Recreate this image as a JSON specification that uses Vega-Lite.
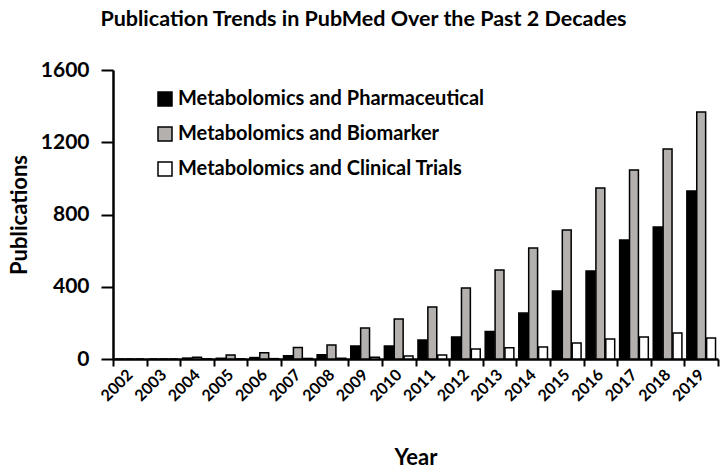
{
  "$schema": "https://vega.github.io/schema/vega-lite/v6.json",
  "width": 605,
  "height": 289,
  "autosize": {"type": "none"},
  "padding": {"left": 113, "top": 70, "right": 9, "bottom": 113},
  "background": "white",
  "title": {
    "text": "Publication Trends in PubMed Over the Past 2 Decades",
    "font": "Lato",
    "fontSize": 21.5,
    "fontWeight": "bold",
    "color": "black",
    "anchor": "middle",
    "dx": -52,
    "offset": 29
  },
  "data": {
    "values": [
      {"year": "2002", "series": "Metabolomics and Pharmaceutical", "value": 0},
      {"year": "2003", "series": "Metabolomics and Pharmaceutical", "value": 0},
      {"year": "2004", "series": "Metabolomics and Pharmaceutical", "value": 5},
      {"year": "2005", "series": "Metabolomics and Pharmaceutical", "value": 4},
      {"year": "2006", "series": "Metabolomics and Pharmaceutical", "value": 8},
      {"year": "2007", "series": "Metabolomics and Pharmaceutical", "value": 18},
      {"year": "2008", "series": "Metabolomics and Pharmaceutical", "value": 24},
      {"year": "2009", "series": "Metabolomics and Pharmaceutical", "value": 72},
      {"year": "2010", "series": "Metabolomics and Pharmaceutical", "value": 72},
      {"year": "2011", "series": "Metabolomics and Pharmaceutical", "value": 105},
      {"year": "2012", "series": "Metabolomics and Pharmaceutical", "value": 122},
      {"year": "2013", "series": "Metabolomics and Pharmaceutical", "value": 152},
      {"year": "2014", "series": "Metabolomics and Pharmaceutical", "value": 254},
      {"year": "2015", "series": "Metabolomics and Pharmaceutical", "value": 376},
      {"year": "2016", "series": "Metabolomics and Pharmaceutical", "value": 487},
      {"year": "2017", "series": "Metabolomics and Pharmaceutical", "value": 659},
      {"year": "2018", "series": "Metabolomics and Pharmaceutical", "value": 731},
      {"year": "2019", "series": "Metabolomics and Pharmaceutical", "value": 930},
      {"year": "2002", "series": "Metabolomics and Biomarker", "value": 0},
      {"year": "2003", "series": "Metabolomics and Biomarker", "value": 0},
      {"year": "2004", "series": "Metabolomics and Biomarker", "value": 9},
      {"year": "2005", "series": "Metabolomics and Biomarker", "value": 22},
      {"year": "2006", "series": "Metabolomics and Biomarker", "value": 35},
      {"year": "2007", "series": "Metabolomics and Biomarker", "value": 63},
      {"year": "2008", "series": "Metabolomics and Biomarker", "value": 78},
      {"year": "2009", "series": "Metabolomics and Biomarker", "value": 172},
      {"year": "2010", "series": "Metabolomics and Biomarker", "value": 221},
      {"year": "2011", "series": "Metabolomics and Biomarker", "value": 288},
      {"year": "2012", "series": "Metabolomics and Biomarker", "value": 393},
      {"year": "2013", "series": "Metabolomics and Biomarker", "value": 493},
      {"year": "2014", "series": "Metabolomics and Biomarker", "value": 615},
      {"year": "2015", "series": "Metabolomics and Biomarker", "value": 714},
      {"year": "2016", "series": "Metabolomics and Biomarker", "value": 947},
      {"year": "2017", "series": "Metabolomics and Biomarker", "value": 1047},
      {"year": "2018", "series": "Metabolomics and Biomarker", "value": 1163},
      {"year": "2019", "series": "Metabolomics and Biomarker", "value": 1368},
      {"year": "2002", "series": "Metabolomics and Clinical Trials", "value": 0},
      {"year": "2003", "series": "Metabolomics and Clinical Trials", "value": 0},
      {"year": "2004", "series": "Metabolomics and Clinical Trials", "value": 1},
      {"year": "2005", "series": "Metabolomics and Clinical Trials", "value": 1},
      {"year": "2006", "series": "Metabolomics and Clinical Trials", "value": 2},
      {"year": "2007", "series": "Metabolomics and Clinical Trials", "value": 3},
      {"year": "2008", "series": "Metabolomics and Clinical Trials", "value": 4},
      {"year": "2009", "series": "Metabolomics and Clinical Trials", "value": 10},
      {"year": "2010", "series": "Metabolomics and Clinical Trials", "value": 17},
      {"year": "2011", "series": "Metabolomics and Clinical Trials", "value": 22},
      {"year": "2012", "series": "Metabolomics and Clinical Trials", "value": 55},
      {"year": "2013", "series": "Metabolomics and Clinical Trials", "value": 62},
      {"year": "2014", "series": "Metabolomics and Clinical Trials", "value": 66},
      {"year": "2015", "series": "Metabolomics and Clinical Trials", "value": 89},
      {"year": "2016", "series": "Metabolomics and Clinical Trials", "value": 111},
      {"year": "2017", "series": "Metabolomics and Clinical Trials", "value": 122},
      {"year": "2018", "series": "Metabolomics and Clinical Trials", "value": 144},
      {"year": "2019", "series": "Metabolomics and Clinical Trials", "value": 116}
    ]
  },
  "mark": {"type": "bar", "stroke": "black", "strokeWidth": 1.5},
  "encoding": {
    "x": {
      "field": "year",
      "type": "nominal",
      "scale": {"paddingInner": 0, "paddingOuter": 0},
      "axis": {
        "title": "Year",
        "titleFont": "Lato",
        "titleFontSize": 22,
        "titleFontWeight": "bold",
        "titleColor": "black",
        "titlePadding": 44,
        "labelAngle": -45,
        "labelAlign": "right",
        "labelBaseline": "middle",
        "labelFont": "Lato",
        "labelFontSize": 16,
        "labelFontWeight": "bold",
        "labelColor": "black",
        "labelPadding": 6,
        "tickBand": "extent",
        "tickSize": 7,
        "tickWidth": 2,
        "tickColor": "black",
        "domainColor": "black",
        "domainWidth": 2.5
      }
    },
    "xOffset": {
      "field": "series",
      "type": "nominal",
      "sort": ["Metabolomics and Pharmaceutical", "Metabolomics and Biomarker", "Metabolomics and Clinical Trials"],
      "scale": {"paddingInner": 0.1, "paddingOuter": 0.25}
    },
    "y": {
      "field": "value",
      "type": "quantitative",
      "scale": {"domain": [0, 1600]},
      "axis": {
        "title": "Publications",
        "titleFont": "Lato",
        "titleFontSize": 22,
        "titleFontWeight": "bold",
        "titleColor": "black",
        "titlePadding": 9,
        "values": [0, 400, 800, 1200, 1600],
        "format": "d",
        "grid": false,
        "labelFont": "Lato",
        "labelFontSize": 21,
        "labelFontWeight": "bold",
        "labelColor": "black",
        "labelPadding": 12,
        "tickSize": 12,
        "tickWidth": 2,
        "tickColor": "black",
        "domainColor": "black",
        "domainWidth": 2.5
      }
    },
    "fill": {
      "field": "series",
      "type": "nominal",
      "sort": ["Metabolomics and Pharmaceutical", "Metabolomics and Biomarker", "Metabolomics and Clinical Trials"],
      "scale": {
        "domain": ["Metabolomics and Pharmaceutical", "Metabolomics and Biomarker", "Metabolomics and Clinical Trials"],
        "range": ["#000000", "#b3b0ae", "#ffffff"]
      },
      "legend": {
        "title": null,
        "orient": "none",
        "legendX": 42,
        "legendY": 19,
        "symbolType": "square",
        "symbolSize": 196,
        "symbolStrokeColor": "black",
        "symbolStrokeWidth": 1.5,
        "labelFont": "Lato",
        "labelFontSize": 20,
        "labelFontWeight": "bold",
        "labelColor": "black",
        "labelOffset": 3,
        "rowPadding": 15,
        "labelLimit": 400
      }
    }
  },
  "config": {
    "view": {"stroke": null}
  }
}
